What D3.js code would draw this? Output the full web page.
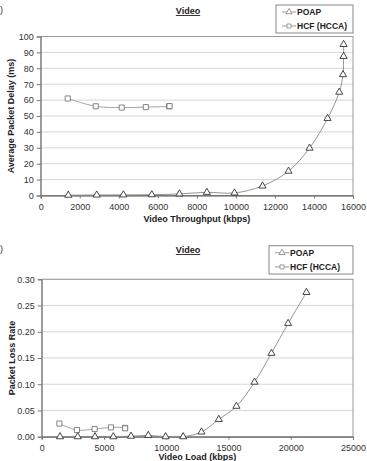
<!DOCTYPE html>
<html>
<head>
<meta charset="UTF-8">
<script src="https://cdnjs.cloudflare.com/ajax/libs/d3/7.8.5/d3.min.js"></script>
<style>
  body { margin: 0; background: #fff; }
  svg { font-family: "Liberation Sans", Arial, sans-serif; display: block; }
  .grid line { stroke: #d6d6d6; stroke-width: 1; }
  .tick text { fill: #333; font-size: 9px; }
</style>
</head>
<body>
<svg id="chart" width="367" height="461"></svg>
<script>
// (a) delay vs throughput
const delayPoapX = [1415, 2870, 4236, 5692, 7108, 8513, 9928, 11364, 12697, 13774, 14697, 15297, 15487, 15518, 15518];
const delayPoapY = [0.2, 0.3, 0.4, 0.5, 1.0, 2.0, 1.6, 6.0, 15.3, 29.8, 48.5, 65, 76, 87.5, 95];
const delayHcfX = [1385, 2820, 4154, 5385, 6580, 6600];
const delayHcfY = [61, 56.1, 55.3, 55.6, 56.1, 56.2];
const delayTicksY = [0, 10, 20, 30, 40, 50, 60, 70, 80, 90, 100];
const delayTicksX = [0, 2000, 4000, 6000, 8000, 10000, 12000, 14000, 16000];

// (b) loss vs load
const lossPoapX = [1470, 2890, 4280, 5750, 7170, 8560, 9950, 11360, 12830, 14220, 15640, 17090, 18450, 19790, 21260];
const lossPoapY = [0, 0, 0, 0, 0.001, 0.0025, 0, 0, 0.009, 0.033, 0.058, 0.104, 0.159, 0.216, 0.275];
const lossHcfX = [1420, 2830, 4250, 5560, 6690, 6700];
const lossHcfY = [0.025, 0.0127, 0.0146, 0.0177, 0.0168, 0.016];
const lossTicksY = [0, 0.05, 0.10, 0.15, 0.20, 0.25, 0.30];
const lossTicksX = [0, 5000, 10000, 15000, 20000, 25000];

const seriesNames = ["POAP", "HCF (HCCA)"];

const svg = d3.select("#chart");

function panel(cfg) {
  const g = svg.append("g");
  const x = d3.scaleLinear().domain(cfg.xDomain).range([cfg.left, cfg.right]);
  const y = d3.scaleLinear().domain(cfg.yDomain).range([cfg.bottom, cfg.top]);

  // panel letter: only its closing bracket is visible in the page
  g.append("text").attr("x", 0).attr("y", cfg.letterY)
    .attr("font-size", 9).attr("fill", "#333").text(cfg.letter);

  // gridlines
  g.append("g").attr("class", "grid")
    .selectAll("line").data(cfg.yTicks.slice(1))
    .join("line")
    .attr("x1", cfg.left).attr("x2", cfg.right)
    .attr("y1", d => y(d)).attr("y2", d => y(d));

  // plot frame
  g.append("rect")
    .attr("x", cfg.left).attr("y", cfg.top)
    .attr("width", cfg.right - cfg.left).attr("height", cfg.bottom - cfg.top)
    .attr("fill", "none").attr("stroke", "#9a9a9a");

  const ya = g.append("g").attr("transform", `translate(${cfg.left},0)`)
    .call(d3.axisLeft(y).tickValues(cfg.yTicks).tickFormat(cfg.yFmt).tickSize(4).tickPadding(3));
  ya.select(".domain").attr("stroke", "#777");
  ya.selectAll(".tick line").attr("stroke", "#777");

  const xa = g.append("g").attr("transform", `translate(0,${cfg.bottom})`)
    .call(d3.axisBottom(x).tickValues(cfg.xTicks).tickFormat(d3.format("d")).tickSize(3).tickPadding(5));
  xa.select(".domain").attr("stroke", "#555");
  xa.selectAll(".tick line").attr("stroke", "#777");

  // titles
  g.append("text").attr("x", 188).attr("y", cfg.titleY)
    .attr("text-anchor", "middle").attr("font-size", 9).attr("font-weight", "bold")
    .attr("text-decoration", "underline").attr("fill", "#222").text("Video");
  g.append("text").attr("x", (cfg.left + cfg.right) / 2).attr("y", cfg.xLabelY)
    .attr("text-anchor", "middle").attr("font-size", 9).attr("font-weight", "bold")
    .attr("fill", "#222").text(cfg.xLabel);
  g.append("text")
    .attr("transform", `translate(${cfg.yLabelX},${(cfg.top + cfg.bottom) / 2}) rotate(-90)`)
    .attr("text-anchor", "middle").attr("font-size", 9).attr("font-weight", "bold")
    .attr("fill", "#222").text(cfg.yLabel);

  const line = d3.line().x(d => x(d[0])).y(d => y(d[1])).curve(d3.curveCatmullRom.alpha(0.5));
  const tri = d3.symbol().type(d3.symbolTriangle).size(22);
  const sq = d3.symbol().type(d3.symbolSquare).size(26);

  const series = [
    { pts: d3.zip(cfg.hcfX, cfg.hcfY), sym: sq, line: "#999", mark: "#777" },
    { pts: d3.zip(cfg.poapX, cfg.poapY), sym: tri, line: "#888", mark: "#333" }
  ];
  series.forEach(s => {
    g.append("path").attr("d", line(s.pts)).attr("fill", "none")
      .attr("stroke", s.line).attr("stroke-width", 0.9);
    g.selectAll(null).data(s.pts).join("path")
      .attr("d", s.sym)
      .attr("transform", d => `translate(${x(d[0])},${y(d[1])})`)
      .attr("fill", "#fff").attr("stroke", s.mark).attr("stroke-width", 0.9);
  });

  // legend
  const lg = g.append("g");
  lg.append("rect").attr("x", cfg.legX).attr("y", cfg.legY)
    .attr("width", 353 - cfg.legX).attr("height", cfg.legH)
    .attr("fill", "#fff").attr("stroke", "#888");
  const syms = [tri, sq];
  seriesNames.forEach((name, i) => {
    const ly = cfg.legY + cfg.legH * (i * 2 + 1) / 4;
    const lx = cfg.legX + 13;
    lg.append("line").attr("x1", lx - 7).attr("x2", lx + 7)
      .attr("y1", ly).attr("y2", ly).attr("stroke", "#999");
    lg.append("path").attr("d", syms[i].size(16))
      .attr("transform", `translate(${lx},${ly})`)
      .attr("fill", "#fff").attr("stroke", "#999");
    lg.append("text").attr("x", lx + 8).attr("y", ly + 3)
      .attr("font-size", 8.5).attr("font-weight", "bold").attr("fill", "#222").text(name);
  });
}

panel({
  letter: ")", letterY: 13,
  left: 40.7, right: 353, top: 36.5, bottom: 195.5,
  xDomain: [0, 16000], yDomain: [0, 100],
  xTicks: delayTicksX, yTicks: delayTicksY, yFmt: d3.format("d"),
  poapX: delayPoapX, poapY: delayPoapY, hcfX: delayHcfX, hcfY: delayHcfY,
  titleY: 14, xLabel: "Video Throughput (kbps)", xLabelY: 222,
  yLabel: "Average Packet Delay (ms)", yLabelX: 14,
  legX: 276, legY: 5, legH: 28
});

panel({
  letter: ")", letterY: 252,
  left: 41.7, right: 353, top: 279.3, bottom: 436.7,
  xDomain: [0, 25000], yDomain: [0, 0.3],
  xTicks: lossTicksX, yTicks: lossTicksY, yFmt: d3.format(".2f"),
  poapX: lossPoapX, poapY: lossPoapY, hcfX: lossHcfX, hcfY: lossHcfY,
  titleY: 253, xLabel: "Video Load (kbps)", xLabelY: 460,
  yLabel: "Packet Loss Rate", yLabelX: 15,
  legX: 269, legY: 245.7, legH: 28.3
});
</script>
</body>
</html>
